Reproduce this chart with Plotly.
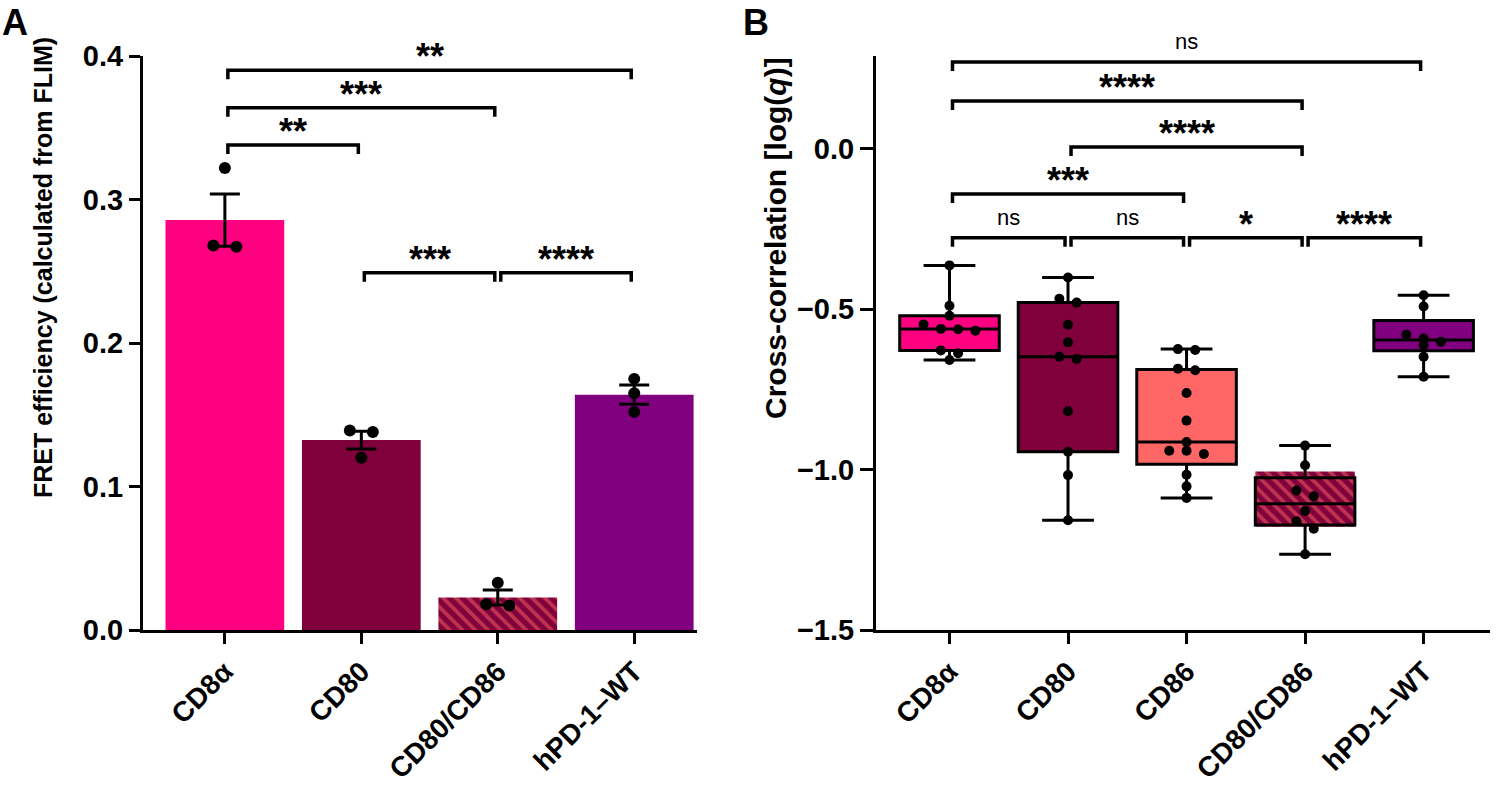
import numpy as np
import plotly.graph_objects as go

# ---------------- data ----------------
a_categories = ["CD8α", "CD80", "CD80/CD86", "hPD-1–WT"]
a_points = [
    [0.322, 0.268, 0.267],
    [0.139, 0.138, 0.120],
    [0.033, 0.018, 0.017],
    [0.175, 0.165, 0.152],
]
a_colors = ["#FF0080", "#7F003A", "#7F003A", "#800080"]
a_hatched = [False, False, True, False]

b_categories = ["CD8α", "CD80", "CD86", "CD80/CD86", "hPD-1–WT"]
b_cd8a = [-0.363, -0.489, -0.520, -0.547, -0.567, -0.562, -0.561, -0.628, -0.637, -0.658]
b_cd80 = [-0.401, -0.479, -0.467, -0.548, -0.603, -0.655, -0.648, -0.818, -0.944, -1.017, -1.158]
b_cd86 = [-0.627, -0.624, -0.690, -0.685, -0.761, -0.847, -0.914, -0.941, -0.951, -0.941, -1.016, -1.052, -1.088]
b_cd80_cd86 = [-0.925, -0.986, -1.065, -1.083, -1.129, -1.161, -1.184, -1.264]
b_hpd1 = [-0.456, -0.491, -0.579, -0.591, -0.601, -0.611, -0.648, -0.710]
b_values = [b_cd8a, b_cd80, b_cd86, b_cd80_cd86, b_hpd1]
b_colors = ["#FF0080", "#7F003A", "#FF6666", "#7F003A", "#800080"]
b_hatched = [False, False, False, True, False]

a_tests = [(0, 3, "**"), (0, 2, "***"), (0, 1, "**"), (1, 2, "***"), (2, 3, "****")]
b_tests = [(0, 4, "ns"), (0, 3, "****"), (1, 3, "****"), (0, 2, "***"),
           (0, 1, "ns"), (1, 2, "ns"), (2, 3, "*"), (3, 4, "****")]

# ---------------- layout geometry ----------------
W, H = 1497, 788
FONT = "Liberation Sans"
HATCH = dict(shape="\\", fgcolor="#FF6666", bgcolor="#7F003A", size=9, solidity=0.42)

a_left, a_right = 143, 697
b_left, b_right = 876, 1490
top_px, bot_px = 56, 630
a_xrange = [-0.6, 3.46]
b_xrange = [-0.62, 4.56]
a_yrange = [0, 0.4]
b_yrange = [-1.5, 0.29]
a_bracket_y = [0.390, 0.364, 0.338, 0.249, 0.249]
b_bracket_y = [0.271, 0.150, 0.006, -0.140, -0.277, -0.277, -0.277, -0.277]

a_ypx = (bot_px - top_px) / (a_yrange[1] - a_yrange[0])
b_ypx = (bot_px - top_px) / (b_yrange[1] - b_yrange[0])
a_xpx = (a_right - a_left) / (a_xrange[1] - a_xrange[0])
b_xpx = (b_right - b_left) / (b_xrange[1] - b_xrange[0])


def swarm(vals, ypx, step, thresh_px=8.0):
    vals = np.asarray(vals, dtype=float)
    order = np.argsort(-vals, kind="stable")
    rows = []
    for idx in order:
        if rows and (vals[rows[-1][0]] - vals[idx]) * ypx < thresh_px:
            rows[-1].append(idx)
        else:
            rows.append([idx])
    off = np.zeros(len(vals))
    for r in rows:
        n = len(r)
        for k, idx in enumerate(r):
            off[idx] = (k - (n - 1) / 2) * step
    return off


fig = go.Figure()

# ---------------- panel A ----------------
for i, p in enumerate(a_points):
    m = float(np.mean(p))
    s = float(np.std(p, ddof=1) / np.sqrt(len(p)))
    mk = dict(color=a_colors[i], line=dict(width=0))
    if a_hatched[i]:
        mk["pattern"] = HATCH
    fig.add_trace(go.Bar(
        x=[i], y=[m], width=0.87, marker=mk,
        error_y=dict(type="data", array=[s], visible=True, color="black",
                     thickness=3, width=15),
        xaxis="x", yaxis="y", showlegend=False,
    ))
ax, ay = [], []
for i, p in enumerate(a_points):
    off = swarm(p, a_ypx, 23 / a_xpx)
    ax += list(i + off)
    ay += list(p)
fig.add_trace(go.Scatter(x=ax, y=ay, mode="markers",
                         marker=dict(color="black", size=12),
                         xaxis="x", yaxis="y", showlegend=False, cliponaxis=False))

# ---------------- panel B ----------------
for i, vals in enumerate(b_values):
    if b_hatched[i]:
        q1, q3 = np.percentile(np.asarray(vals), [25, 75], method="weibull")
        fig.add_trace(go.Bar(x=[i], y=[q3 - q1], base=[q1], width=0.84,
                             marker=dict(color=b_colors[i], line=dict(width=0), pattern=HATCH),
                             xaxis="x2", yaxis="y2", showlegend=False))
for i, vals in enumerate(b_values):
    fill = "rgba(0,0,0,0)" if b_hatched[i] else b_colors[i]
    fig.add_trace(go.Box(
        x=[i] * len(vals), y=vals, width=0.84, whiskerwidth=0.52,
        quartilemethod="exclusive", boxpoints=False,
        fillcolor=fill, line=dict(color="black", width=3),
        xaxis="x2", yaxis="y2", showlegend=False,
    ))
bx, by = [], []
for i, vals in enumerate(b_values):
    off = swarm(vals, b_ypx, 17.3 / b_xpx)
    bx += list(i + off)
    by += list(vals)
fig.add_trace(go.Scatter(x=bx, y=by, mode="markers",
                         marker=dict(color="black", size=10),
                         xaxis="x2", yaxis="y2", showlegend=False, cliponaxis=False))

# ---------------- brackets ----------------
shapes, annos = [], []


def add_brackets(tests, levels, xref, yref, ypx, xpx):
    for (i, j, lab), yv in zip(tests, levels):
        drop = 9 / ypx
        shrink = 3 / xpx
        x1, x2 = i + shrink, j - shrink
        shapes.append(dict(type="path", xref=xref, yref=yref,
                           path=f"M {x1},{yv - drop} L {x1},{yv} L {x2},{yv} L {x2},{yv - drop}",
                           line=dict(color="black", width=3.5)))
        star = lab != "ns"
        annos.append(dict(x=(i + j) / 2, y=yv, xref=xref, yref=yref, text=lab,
                          showarrow=False, yanchor="bottom",
                          yshift=-9 if star else 6,
                          font=dict(family=FONT, size=36 if star else 22,
                                    color="black", weight=700 if star else 400)))


add_brackets(a_tests, a_bracket_y, "x", "y", a_ypx, a_xpx)
add_brackets(b_tests, b_bracket_y, "x2", "y2", b_ypx, b_xpx)

# titles and panel labels
annos.append(dict(x=43 / W, y=1 - 268 / H, xref="paper", yref="paper",
                  text="FRET efficiency (calculated from FLIM)", textangle=-90,
                  showarrow=False, xanchor="center", yanchor="middle",
                  font=dict(family=FONT, size=25, color="black", weight=700)))
annos.append(dict(x=776 / W, y=1 - 238 / H, xref="paper", yref="paper",
                  text="Cross-correlation [log(<i>q</i>)]", textangle=-90,
                  showarrow=False, xanchor="center", yanchor="middle",
                  font=dict(family=FONT, size=30, color="black", weight=700)))
annos.append(dict(x=0, y=1, xref="paper", yref="paper", text="A", showarrow=False,
                  xanchor="left", yanchor="top",
                  font=dict(family=FONT, size=36, color="black", weight=700)))
annos.append(dict(x=741 / W, y=1, xref="paper", yref="paper", text="B", showarrow=False,
                  xanchor="left", yanchor="top",
                  font=dict(family=FONT, size=36, color="black", weight=700)))

axis_common = dict(showline=True, linewidth=3, linecolor="black", ticks="outside",
                   ticklen=11, tickwidth=3, tickcolor="black", showgrid=False,
                   zeroline=False, automargin=False,
                   tickfont=dict(family=FONT, size=29, color="black", weight=700))
xtick_font = dict(family=FONT, size=28, color="black", weight=700)

ydom = [1 - bot_px / H, 1 - top_px / H]
fig.update_layout(
    width=W, height=H, margin=dict(l=0, r=0, t=0, b=0),
    paper_bgcolor="white", plot_bgcolor="white",
    barmode="overlay", boxmode="overlay", showlegend=False,
    xaxis=dict(axis_common, domain=[a_left / W, a_right / W], range=a_xrange,
               tickvals=list(range(len(a_categories))), ticktext=a_categories,
               tickangle=-45, tickfont=xtick_font, anchor="y"),
    yaxis=dict(axis_common, domain=ydom, range=a_yrange, tickvals=[0, 0.1, 0.2, 0.3, 0.4],
               tickformat=".1f", anchor="x"),
    xaxis2=dict(axis_common, domain=[b_left / W, b_right / W], range=b_xrange,
                tickvals=list(range(len(b_categories))), ticktext=b_categories,
                tickangle=-45, tickfont=xtick_font, anchor="y2"),
    yaxis2=dict(axis_common, domain=ydom, range=b_yrange, tickvals=[-1.5, -1.0, -0.5, 0.0],
                tickformat=".1f", ticklen=13, anchor="x2"),
    shapes=shapes, annotations=annos,
)

fig.write_html("out.html", config={"displayModeBar": False},
               post_script="document.body.style.margin='0';document.body.style.overflow='hidden';")
